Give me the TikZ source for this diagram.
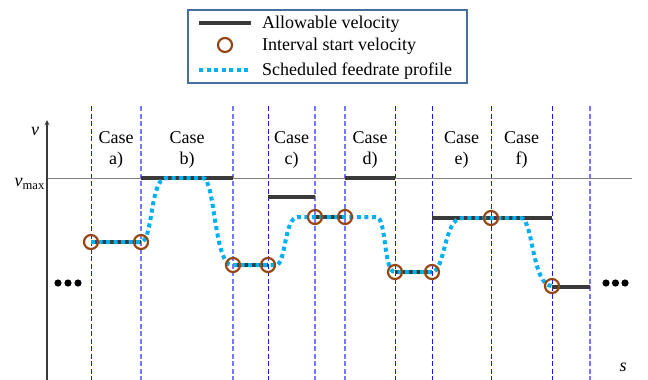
\documentclass[tikz,border=0pt]{standalone}
\usepackage{fontspec}
\setmainfont{Liberation Serif}
\usepackage{xcolor}
\usetikzlibrary{positioning}
\tikzset{>=stealth}
\definecolor{allowgray}{RGB}{58,58,58}
\definecolor{profblue}{RGB}{0,176,240}
\definecolor{startbrown}{RGB}{150,70,20}
\definecolor{legendframe}{RGB}{70,110,160}
\definecolor{bounddark}{RGB}{25,25,255}
\definecolor{boundpale}{RGB}{120,120,255}
\tikzset{
  allowable/.style={allowgray,line width=4pt},
  profile/.style={profblue,line width=4pt,dash pattern=on 4pt off 3.5pt},
  startpt/.style={circle,draw=startbrown,line width=2.2pt,minimum size=14pt,inner sep=0pt},
  bound/.style={bounddark,dash pattern=on 5pt off 2.5pt,line width=0.9pt},
  boundlight/.style={boundpale,dash pattern=on 5pt off 2.5pt,line width=1.3pt},
  caselbl/.style={align=center,font=\fontsize{18}{21}\selectfont},
  lgdtext/.style={anchor=base west,inner sep=0pt,font=\fontsize{18}{21}\selectfont},
}

\begin{document}
\begin{tikzpicture}[x=1pt,y=-1pt]
  \useasboundingbox (0,0) rectangle (648,380);
  % interval boundaries
  \foreach \x in {91,268,395,432,491,552}
    \draw[bound] (\x,106) -- (\x,380);
  \foreach \x in {141,233,315,345,590}
    \draw[boundlight] (\x,106) -- (\x,380);
  % axes
  \coordinate (o) at (47,383);
  \coordinate (vtop) at (47,120);
  \coordinate (send) at (646,383);
  \coordinate (vmaxl) at (47,178);
  \coordinate (vmaxr) at (632,178);
  \draw[gray,line width=0.9pt] (vmaxl) -- (vmaxr);
  \draw[->,allowgray,line width=1.3pt] (o) -- (vtop);
  \draw[->,allowgray,line width=1.3pt] (o) -- (send);
  \node (vlbl) at (35,131) {\fontsize{18}{21}\selectfont\textit{v}};
  \node[anchor=east,inner sep=1pt] (vmaxlbl) at (46,184) {\fontsize{18}{21}\selectfont\textit{v}\textsubscript{max}};
  \node (slbl) at (623,367) {\fontsize{18}{21}\selectfont\textit{s}};
  % cases
  \node[caselbl] (casea) at (116,150) {Case\\a)};
  \node[caselbl] (caseb) at (187,150) {Case\\b)};
  \node[caselbl] (casec) at (291.5,150) {Case\\c)};
  \node[caselbl] (cased) at (370,150) {Case\\d)};
  \node[caselbl] (casee) at (461.5,150) {Case\\e)};
  \node[caselbl] (casef) at (521.5,150) {Case\\f)};
  % allowable velocity
  \foreach \a/\b/\y in {91/141/242,141/233/178,233/268/265,268/315/197,315/345/217,
                        345/395/178,395/432/272,432/552/218,552/590/287}
    \draw[allowable] (\a,\y) -- (\b,\y);
  % scheduled feedrate
  \draw[profile] (91,242) -- (141,242)
    .. controls (153,242) and (150,178) .. (166,178) -- (203,178)
    .. controls (215,178) and (214,265) .. (232,265) -- (276,265)
    .. controls (286,265) and (284,217) .. (298,217) -- (376,217)
    .. controls (387,217) and (383,272) .. (395,272) -- (432,272)
    .. controls (445,272) and (444,218) .. (462,218) -- (521,218)
    .. controls (533,218) and (532,286) .. (552,286);
  % interval start velocities
  \foreach \x/\y [count=\i] in {91/242,141/242,233/265,268/265,315/217,345/217,
                                395/272,432/272,491/218,552/286}
    \node[startpt] (st\i) at (\x,\y) {};
  % continuation dots
  \foreach \x in {58,68,78,606,615.5,625}
    \fill (\x,283) circle (3.6pt);
  % legend
  \node[draw=legendframe,line width=1.3pt,minimum width=279pt,minimum height=73pt,inner sep=0pt]
    (legend) at (327.5,46.5) {};
  \draw[allowable] (199,22.7) -- (251,22.7);
  \node[startpt] (lgdst) at (225,45) {};
  \draw[profile] (199,70) -- (251,70);
  \node[lgdtext] (lgda) at (262,28.3) {Allowable velocity};
  \node[lgdtext] (lgdb) at (262,50.7) {Interval start velocity};
  \node[lgdtext] (lgdc) at (262,75) {Scheduled feedrate profile};
\end{tikzpicture}
\end{document}
